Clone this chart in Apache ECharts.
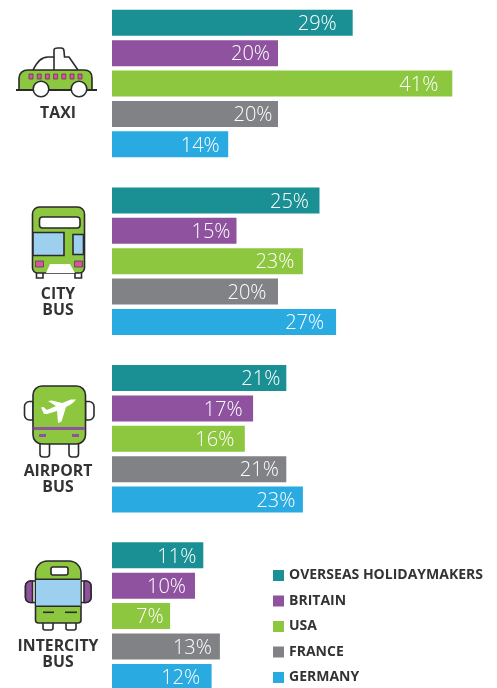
<!DOCTYPE html>
<html><head><meta charset="utf-8">
<style>html,body{margin:0;padding:0;background:#fff}#c{width:497px;height:688px}</style>
<script src="https://cdn.jsdelivr.net/npm/echarts@6/dist/echarts.min.js"></script>
</head><body><div id="c"></div>
<script>
const transports = ['TAXI', 'CITY\nBUS', 'AIRPORT\nBUS', 'INTERCITY\nBUS'];
const countries = ['OVERSEAS HOLIDAYMAKERS', 'BRITAIN', 'USA', 'FRANCE', 'GERMANY'];
const overseas = [29, 25, 21, 11];
const britain = [20, 15, 17, 10];
const usa = [41, 23, 16, 7];
const france = [20, 20, 21, 13];
const germany = [14, 27, 23, 12];
const colors = ['#1a9095', '#8f529e', '#8dc63f', '#808285', '#29abe2'];

const seriesValues = [overseas, britain, usa, france, germany];
const gridTops = [7.7, 185.3, 362.9, 544.2];
const gridHeights = [151.75, 151.75, 151.75, 144];
const labelCenters = [113, 302, 479, 654];
// gap between each percentage label and the end of its bar, per transport then per country
const labelInsets = [[16, 8, 14, 5.5, 8.5], [10.5, 6, 8.5, 11.5, 12], [6, 10.5, 10.5, 7.5, 7.5], [7, 9, 6.5, 8, 11.5]];
const DARK = '#2b2a2c', GREEN = '#8dc63f', BLUE = '#9dd0ee', PINK = '#d9539f', PURPLE = '#8f529e';

const grids = [], xAxes = [], yAxes = [], series = [];
transports.forEach((t, g) => {
  grids.push({left: 112, top: gridTops[g], width: 373.5, height: gridHeights[g]});
  xAxes.push({type: 'value', gridIndex: g, min: 0, max: 45, show: false});
  yAxes.push({type: 'category', gridIndex: g, data: [t], inverse: true,
    axisLine: {show: false}, axisTick: {show: false}, splitLine: {show: false}, axisLabel: {show: false}});
  countries.forEach((c, i) => {
    series.push({type: 'bar', name: c, xAxisIndex: g, yAxisIndex: g, data: [seriesValues[i][g]],
      barWidth: 26, barGap: '16.9%', silent: true, animation: false, clip: false,
      itemStyle: {color: colors[i]},
      label: {show: true, position: 'insideRight', distance: labelInsets[g][i], offset: [0, 1.5], formatter: '{c}%',
        color: '#fff', fontFamily: 'Open Sans', fontWeight: 300, fontSize: 20}});
  });
});

const st = {stroke: DARK, lineWidth: 1.6};
const thin = {stroke: '#55404f', lineWidth: 0.8};
const rect = (x, y, w, h, fill, r, s) => ({type: 'rect', shape: {x, y, width: w, height: h, r: r || 0},
  style: Object.assign({fill}, s === false ? {stroke: null} : (s || st)), silent: true});
let pathCount = 0;
function svgPath(d, fill, s) {
  const name = 'iconPath' + (pathCount++);
  echarts.graphic.registerShape(name, echarts.graphic.extendPath(d, {}));
  return {type: name, style: Object.assign({fill}, s === false ? {stroke: null} : st), silent: true};
}
const icons = [];
// taxi
icons.push(svgPath('M33 70 C37 62 41 57 48 57 L54 57 L54 50 C54 48 56 48 58 48 L61 48 C63 48 64 49 64 51 L64.5 57 L69 57 L78 70', 'none'));
icons.push(svgPath('M54 57 L54 70', 'none'));
icons.push(svgPath('M19 90 L19 78 C19 73 23 70 28 70 L84 70 C89 70 92 73 92 78 L92 90 Z', GREEN));
[29, 37.2, 45.4, 53.6, 61.8, 70, 78].forEach(x => icons.push(rect(x, 74, 4, 5, PINK, 0, thin)));
icons.push(rect(16, 89, 81, 2, DARK, 0, false));
[41, 79].forEach(cx => icons.push({type: 'circle', shape: {cx, cy: 89, r: 7.8}, style: Object.assign({fill: '#fff'}, st), silent: true}));
// city bus
[36.5, 75].forEach(x => icons.push(rect(x, 272, 6.5, 6, '#fff')));
icons.push(rect(32.5, 207, 52, 66, GREEN, [7, 7, 5, 5]));
icons.push(rect(39.5, 217, 40.5, 11, '#fff', 3));
icons.push(rect(33, 232.5, 31, 23, BLUE));
icons.push(rect(73, 234.5, 10.5, 20, BLUE));
[35.5, 74.5].forEach(x => icons.push(rect(x, 261, 8, 6, PINK, 0, thin)));
icons.push(svgPath('M46 273 L50 264 L70 264 L75 273 Z', '#fff', false));
// airport bus
[[24.5, [5, 0, 0, 5]], [85.5, [0, 5, 5, 0]]].forEach(([x, r]) => icons.push(rect(x, 401.5, 8.5, 18.5, '#fff', r)));
[40, 69].forEach(x => icons.push(rect(x, 443, 9.5, 14, '#fff', [0, 0, 3, 3])));
icons.push(rect(33, 386, 52.5, 58, GREEN, 9));
icons.push(rect(33.5, 427, 51.5, 3, PURPLE, 0, false));
[39, 72].forEach(x => icons.push(rect(x, 434, 7, 3, PURPLE, 0, false)));
icons.push(svgPath('M76 399.5 C74 403 70 405 66 407 L61.5 421.5 L58 423 L57 411 L47 414 L44 414 L41 407.5 L43.5 407 L47 410 L56 406 L48 401 L52 400.5 L62 403 L71 399.5 Z', '#fff', false));
// intercity bus
icons.push(rect(25.5, 581, 12, 21.5, '#fff', [5, 0, 0, 5]));
icons.push(rect(79, 581, 12, 21.5, '#fff', [0, 5, 5, 0]));
icons.push(rect(25.5, 581, 7, 21.5, PURPLE, [5, 0, 0, 5]));
icons.push(rect(84, 581, 7, 21.5, PURPLE, [0, 5, 5, 0]));
[43, 66].forEach(x => icons.push(rect(x, 622, 10, 8, '#fff', [0, 0, 2, 2])));
icons.push(rect(35.5, 561, 45.5, 62, GREEN, [12, 12, 3, 3]));
icons.push(rect(51, 567, 17, 8, '#fff', 2));
icons.push(rect(36, 579, 44.5, 27, BLUE, 0, false));
icons.push(rect(36, 578.5, 44.5, 1.6, DARK, 0, false));
icons.push(rect(36, 605.5, 44.5, 1.6, DARK, 0, false));
[[43, 11], [65, 12]].forEach(([x, w]) => icons.push(rect(x, 611.5, w, 1.6, DARK, 0, false)));
// transport names
transports.forEach((t, g) => icons.push({type: 'text', silent: true,
  style: {text: t, x: 58, y: labelCenters[g], align: 'center', verticalAlign: 'middle',
    fontFamily: 'Open Sans', fontWeight: 700, fontSize: 15.8, lineHeight: 16, fill: '#333'}}));

const chart = echarts.init(document.getElementById('c'), null, {renderer: 'canvas'});
chart.setOption({
  animation: false,
  backgroundColor: '#fff',
  grid: grids, xAxis: xAxes, yAxis: yAxes, series,
  legend: {data: countries, orient: 'vertical', left: 273, top: 567, height: 121, padding: 0, itemWidth: 11, itemHeight: 11, itemGap: 8.5,
    icon: 'rect', selectedMode: false,
    textStyle: {fontFamily: 'Open Sans', fontWeight: 700, fontSize: 14, color: '#333', lineHeight: 17}},
  graphic: icons
});
</script></body></html>
